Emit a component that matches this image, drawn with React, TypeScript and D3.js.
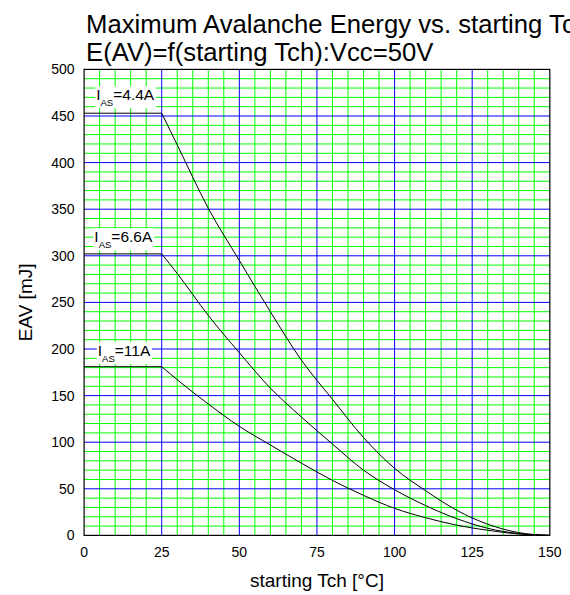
import React, { useEffect, useRef } from "react";
import * as d3 from "d3";

const tch = [0, 25, 30, 40, 50, 60, 70, 80, 90, 100, 110, 120, 130, 140, 150];
const eav44 = [453, 453, 419, 351, 295, 240, 188, 146, 105, 72, 48, 27, 12, 3, 0];
const eav66 = [302, 302, 281, 236, 196, 158, 127, 98, 70, 49, 32, 18, 7.6, 2, 0];
const eav11 = [181, 181, 167, 141, 117, 97, 77.5, 59, 43, 29, 19, 11, 5.5, 1.5, 0];

const seriesNames = ["4.4A", "6.6A", "11A"];
const seriesValues = [eav44, eav66, eav11];
const labelX = [3.9, 3.3, 4.4];
const labelY = [467, 314.5, 192.5];

const xTicks = [0, 25, 50, 75, 100, 125, 150];
const yTicks = [0, 50, 100, 150, 200, 250, 300, 350, 400, 450, 500];

const titleLines = [
  "Maximum Avalanche Energy vs. starting Tch",
  "E(AV)=f(starting Tch):Vcc=50V",
];
const xTitle = "starting Tch [°C]";
const yTitle = "EAV [mJ]";

const FONT = "'Liberation Sans', Arial, Helvetica, sans-serif";

export default function App() {
  const ref = useRef<SVGSVGElement | null>(null);

  useEffect(() => {
    const svg = d3.select(ref.current);
    svg.selectAll("*").remove();

    const x = d3.scaleLinear().domain([0, 150]).range([84.1, 549.8]);
    const y = d3.scaleLinear().domain([0, 500]).range([535.4, 69.4]);

    const g = svg.append("g");

    g.append("rect")
      .attr("x", x(0)).attr("y", y(500))
      .attr("width", x(150) - x(0)).attr("height", y(0) - y(500))
      .attr("fill", "#fff");

    // minor green grid
    const xMinor = d3.range(5, 150, 5).filter((v) => v % 25 !== 0);
    const yMinor = d3.range(10, 500, 10).filter((v) => v % 50 !== 0);
    g.selectAll(".gx").data(xMinor).enter().append("line")
      .attr("x1", (d) => x(d)).attr("x2", (d) => x(d))
      .attr("y1", y(0)).attr("y2", y(500))
      .attr("stroke", "#00ff00").attr("stroke-width", 1);
    g.selectAll(".gy").data(yMinor).enter().append("line")
      .attr("x1", x(0)).attr("x2", x(150))
      .attr("y1", (d) => y(d)).attr("y2", (d) => y(d))
      .attr("stroke", "#00ff00").attr("stroke-width", 1);

    // major blue grid
    const xMajor = xTicks.filter((v) => v > 0 && v < 150);
    const yMajor = yTicks.filter((v) => v > 0 && v < 500);
    g.selectAll(".bx").data(xMajor).enter().append("line")
      .attr("x1", (d) => x(d)).attr("x2", (d) => x(d))
      .attr("y1", y(0)).attr("y2", y(500))
      .attr("stroke", "#0000ff").attr("stroke-width", 1);
    g.selectAll(".by").data(yMajor).enter().append("line")
      .attr("x1", x(0)).attr("x2", x(150))
      .attr("y1", (d) => y(d)).attr("y2", (d) => y(d))
      .attr("stroke", "#0000ff").attr("stroke-width", 1);

    // labels with white background
    seriesNames.forEach((name, i) => {
      const lg = g.append("g");
      const t = lg.append("text")
        .attr("x", x(labelX[i])).attr("y", y(labelY[i]))
        .attr("font-family", FONT).attr("font-size", 15.5).attr("fill", "#000");
      t.append("tspan").text("I");
      t.append("tspan").attr("font-size", 9.5).attr("dy", 6).text("AS");
      t.append("tspan").attr("dy", -6).text("=" + name);
      const bb = (t.node() as SVGTextElement).getBBox();
      lg.insert("rect", "text")
        .attr("x", bb.x - 1).attr("y", bb.y)
        .attr("width", bb.width + 2).attr("height", bb.height)
        .attr("fill", "#fff");
    });

    // curves: flat part straight, derating part smooth
    const flat = d3.line<number>()
      .x((_, j) => x(tch[j]))
      .y((d) => y(d));
    const smooth = d3.line<number>()
      .x((_, j) => x(tch[j + 1]))
      .y((d) => y(d))
      .curve(d3.curveMonotoneX);
    seriesValues.forEach((vals) => {
      g.append("path")
        .attr("d", flat(vals.slice(0, 2)) || "")
        .attr("fill", "none").attr("stroke", "#000").attr("stroke-width", 1);
      g.append("path")
        .attr("d", smooth(vals.slice(1)) || "")
        .attr("fill", "none").attr("stroke", "#000").attr("stroke-width", 1);
    });

    // frame
    g.append("rect")
      .attr("x", x(0)).attr("y", y(500))
      .attr("width", x(150) - x(0)).attr("height", y(0) - y(500))
      .attr("fill", "none").attr("stroke", "#000").attr("stroke-width", 1.2);

    // tick labels
    g.selectAll(".xt").data(xTicks).enter().append("text")
      .attr("x", (d) => x(d)).attr("y", 557)
      .attr("text-anchor", "middle")
      .attr("font-family", FONT).attr("font-size", 14).attr("fill", "#000")
      .text((d) => String(d));
    g.selectAll(".yt").data(yTicks).enter().append("text")
      .attr("x", 74.5).attr("y", (d) => y(d) + 5)
      .attr("text-anchor", "end")
      .attr("font-family", FONT).attr("font-size", 14).attr("fill", "#000")
      .text((d) => String(d));

    // axis titles
    g.append("text")
      .attr("x", (x(0) + x(150)) / 2).attr("y", 587)
      .attr("text-anchor", "middle")
      .attr("font-family", FONT).attr("font-size", 19).attr("fill", "#000")
      .text(xTitle);
    g.append("text")
      .attr("transform", `translate(32, ${(y(0) + y(500)) / 2}) rotate(-90)`)
      .attr("text-anchor", "middle")
      .attr("font-family", FONT).attr("font-size", 19).attr("fill", "#000")
      .text(yTitle);

    // title (the reference clips its first line at the right edge)
    titleLines.forEach((tl, i) => {
      g.append("text")
        .attr("x", 86).attr("y", 32.5 + i * 28)
        .attr("font-family", FONT).attr("font-size", 25.7).attr("fill", "#000")
        .text(tl);
    });
  }, []);

  return (
    <svg
      ref={ref}
      width={570}
      height={595}
      style={{ position: "absolute", left: 0, top: 0, background: "#fff" }}
    />
  );
}
